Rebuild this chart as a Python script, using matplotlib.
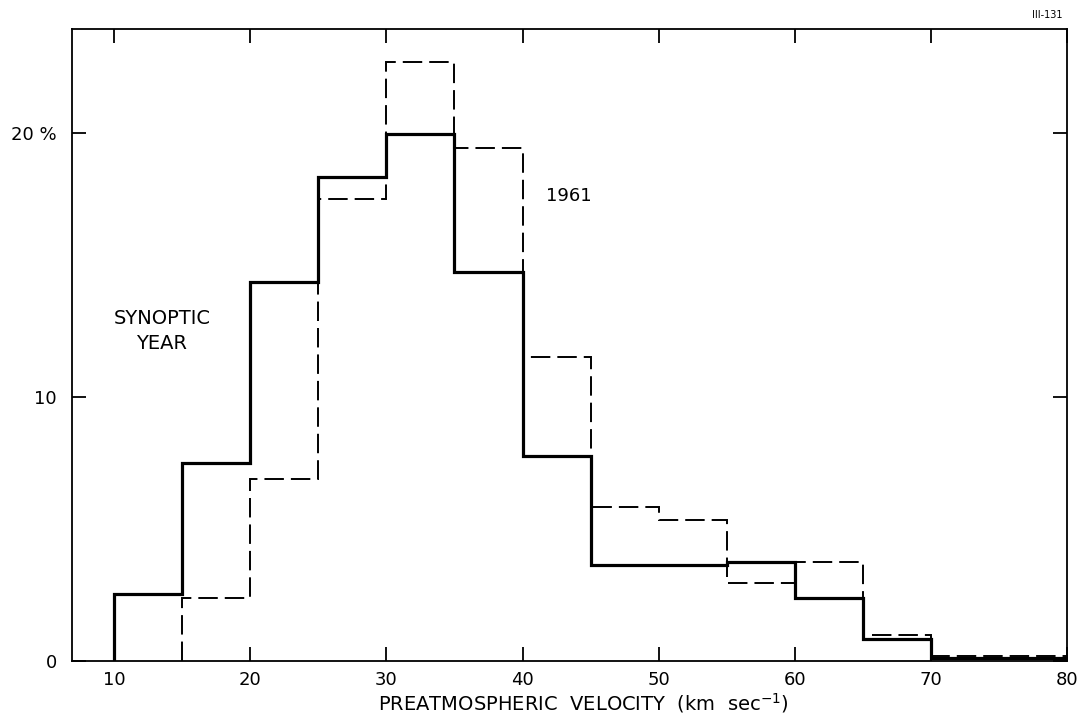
import matplotlib.pyplot as plt

# preatmospheric velocity bins (km/s), percent of meteors
SYNOPTIC_EDGES = [10, 15, 20, 25, 30, 35, 40, 45, 50, 55, 60, 65, 70, 75, 80]
SYNOPTIC_PCT = [2.55, 7.5, 14.35, 18.35, 19.95, 14.75, 7.75, 3.65, 3.65, 3.75, 2.4, 0.85, 0.12, 0.12]

Y1961_EDGES = [15, 20, 25, 30, 35, 40, 45, 50, 55, 60, 65, 70, 75, 80]
Y1961_PCT = [2.4, 6.9, 17.5, 22.7, 19.45, 11.5, 5.85, 5.35, 2.95, 3.75, 1.0, 0.18, 0.18]

X_TICKS = [10, 20, 30, 40, 50, 60, 70, 80]
Y_TICKS = [0, 10, 20]
Y_TICK_LABELS = ["0", "10", "20 %"]

plt.rcParams['font.family'] = ['DejaVu Sans']

fig = plt.figure(figsize=(10.89, 7.21), dpi=100)
ax = fig.add_axes([0.0661, 0.0832, 0.9137, 0.8766])

ax.stairs(SYNOPTIC_PCT, SYNOPTIC_EDGES, baseline=0, color='black', lw=2.3)
ax.stairs(Y1961_PCT, Y1961_EDGES, baseline=0, color='black', lw=1.4,
          linestyle=(0, (10, 3.6)))

ax.set_xlim(6.9, 80)
ax.set_ylim(0, 23.94)

ax.set_xticks(X_TICKS)
ax.set_xticklabels([str(t) for t in X_TICKS])
ax.set_yticks(Y_TICKS)
ax.set_yticklabels(Y_TICK_LABELS)
ax.tick_params(direction='in', length=10, width=1.3, top=True, right=True,
               labelsize=13)
ax.tick_params(axis='x', pad=7)
ax.tick_params(axis='y', pad=11)
for s in ax.spines.values():
    s.set_linewidth(1.3)

ax.set_xlabel('PREATMOSPHERIC  VELOCITY  (km  sec$^{-1}$)', fontsize=14, labelpad=2)
ax.xaxis.label.set_x(0.514)

ax.text(13.5, 12.5, 'SYNOPTIC\nYEAR', ha='center', va='center', fontsize=14,
        linespacing=1.35)
ax.text(43.4, 17.6, '1961', ha='center', va='center', fontsize=13)
fig.text(0.962, 0.979, 'III-131', ha='center', va='center', fontsize=7)

fig.savefig('out.png', dpi=100)
